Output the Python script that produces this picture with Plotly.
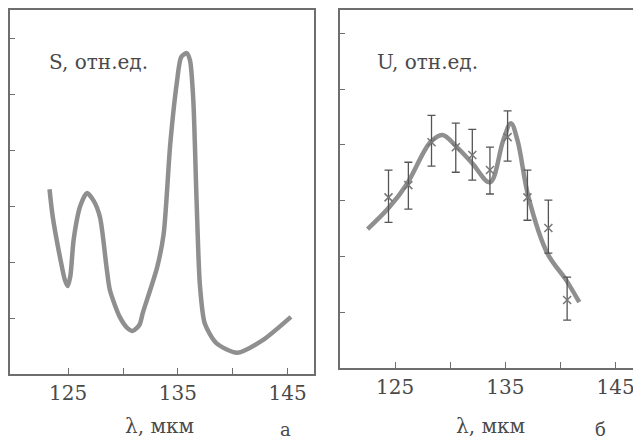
import plotly.graph_objects as go

# Panel a: S curve
s_lambda = [123.3, 123.6, 124.3, 124.7, 124.95, 125.2, 125.5, 126.1, 126.7, 127.3, 127.9, 128.5, 128.8, 129.7,
            130.4, 130.9, 131.5, 131.8, 133.1, 133.7, 134.3, 134.9, 135.3, 135.8, 136.1, 136.4, 136.7, 137.0, 137.45,
            138.5, 140.4, 142.7, 145.3]
s_value = [3.3, 2.8, 2.04, 1.68, 1.57, 1.75, 2.4, 3.0, 3.23, 3.1, 2.8, 1.9, 1.5, 1.02,
           0.82, 0.77, 0.88, 1.09, 1.9, 2.5, 4.1, 5.2, 5.66, 5.73, 5.6, 4.9, 3.1, 1.6, 0.9,
           0.55, 0.38, 0.6, 1.02]

# Panel b: U fitted curve
u_lambda = [122.5, 124.5, 126.1, 128.2, 129.3, 130.6, 132.0, 133.6, 134.8, 135.5, 136.1, 137.1, 138.8, 140.5, 141.7]
u_value = [2.49, 2.89, 3.31, 4.05, 4.18, 3.96, 3.67, 3.33, 4.08, 4.39, 4.08, 3.06, 2.06, 1.58, 1.18]

# Panel b: measured points with error bars
p_lambda = [124.4, 126.2, 128.3, 130.5, 132.0, 133.6, 135.2, 137.0, 138.9, 140.6]
p_value = [3.06, 3.28, 4.05, 3.96, 3.82, 3.55, 4.14, 3.06, 2.51, 1.22]
p_err_up = [0.49, 0.41, 0.48, 0.43, 0.46, 0.41, 0.47, 0.49, 0.50, 0.41]
p_err_down = [0.45, 0.43, 0.43, 0.45, 0.45, 0.43, 0.43, 0.41, 0.45, 0.36]

x_tickvals = [125, 130, 135, 140, 145]
x_ticktext = ["125", "", "135", "", "145"]
y_tickvals = [1, 2, 3, 4, 5, 6]

# The page body has an 8px margin, so the figure is drawn offset by 8px.
OFF = 8
W, H = 641 - OFF, 442 - OFF
CURVE = "#8f8f8f"
AX = "#6e6e6e"
TXT = "#4a4a4a"
FONT = "DejaVu Serif"

fig = go.Figure()
fig.add_trace(go.Scatter(x=s_lambda, y=s_value, mode="lines",
                         line=dict(color=CURVE, width=4.5, shape="spline", smoothing=0.7),
                         xaxis="x", yaxis="y", showlegend=False, hoverinfo="skip"))
fig.add_trace(go.Scatter(x=u_lambda, y=u_value, mode="lines",
                         line=dict(color=CURVE, width=4.5, shape="spline", smoothing=1.0),
                         xaxis="x2", yaxis="y2", showlegend=False, hoverinfo="skip"))
fig.add_trace(go.Scatter(x=p_lambda, y=p_value, mode="markers",
                         marker=dict(symbol="x-thin", size=8, line=dict(color="#777", width=1.5)),
                         error_y=dict(type="data", array=p_err_up, arrayminus=p_err_down,
                                      color="#555", thickness=1.3, width=4),
                         xaxis="x2", yaxis="y2", showlegend=False, hoverinfo="skip"))

def px(v):
    return (v - OFF) / W

def py(v):
    return (H - (v - OFF)) / H

common_x = dict(tickmode="array", tickvals=x_tickvals, ticktext=x_ticktext, ticks="inside", ticklen=6,
                tickcolor=AX, tickwidth=1.2, showgrid=False, zeroline=False, showline=True,
                linecolor=AX, linewidth=1.5, tickfont=dict(family=FONT, size=20, color=TXT))
common_y = dict(tickmode="array", tickvals=y_tickvals, ticktext=[""] * 6, ticks="inside", ticklen=5,
                tickcolor=AX, tickwidth=1.2, showgrid=False, zeroline=False, showline=True,
                linecolor=AX, linewidth=1.5)

def label(text, x, y, anchor="center", size=20):
    return dict(text=text, x=px(x), y=py(y), xref="paper", yref="paper", xanchor=anchor,
                yanchor="middle", showarrow=False, font=dict(family=FONT, size=size, color=TXT))

fig.update_layout(
    width=W, height=H, margin=dict(l=0, r=0, t=0, b=0),
    paper_bgcolor="white", plot_bgcolor="white",
    xaxis=dict(domain=[px(10), px(314)], range=[119.7, 147.4], anchor="y", mirror=True, **common_x),
    yaxis=dict(domain=[py(374), py(10)], range=[0, 6.5], anchor="x", mirror=True, **common_y),
    xaxis2=dict(domain=[px(340), 1.0], range=[120, 147.3], anchor="y2", mirror=True, **common_x),
    yaxis2=dict(domain=[py(368), py(10)], range=[0, 6.42], anchor="x2", mirror=False, **common_y),
    annotations=[
        label("S, отн.ед.", 47, 62, "left"),
        label("U, отн.ед.", 375, 62, "left"),
        label("λ, мкм", 159, 426),
        label("λ, мкм", 490, 426),
        label("а", 285, 429, size=18),
        label("б", 600, 429, size=18),
    ],
)

fig.write_html("out.html")
